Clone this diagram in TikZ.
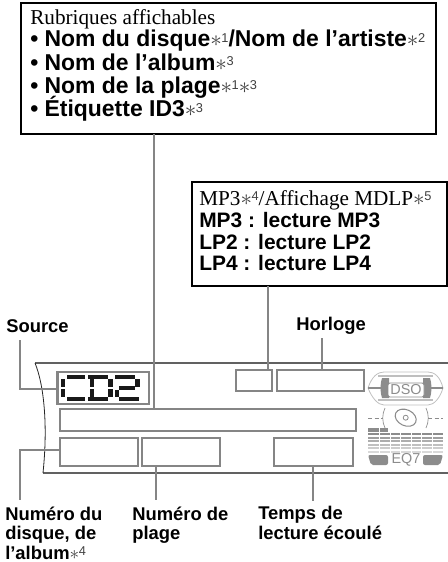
\documentclass[tikz,border=0pt]{standalone}
\usepackage{fontspec}
\setmainfont{Liberation Serif}
\newfontfamily\hv{Liberation Sans}
\definecolor{conn}{gray}{0.52}
\definecolor{lcd}{gray}{0.55}
\definecolor{lcdl}{gray}{0.75}
\tikzset{
  x=0.75pt,y=-0.75pt,
  callout/.style={draw=black,line width=1.7pt,fill=white},
  seg/.style={draw=conn,line width=1.6pt,fill=none},
  link/.style={draw=conn,line width=1.4pt},
  panel/.style={draw=black!62,line width=1.2pt},
  sertext/.style={anchor=base west,inner sep=0pt,font=\fontsize{15.9}{18}\selectfont},
  boldtext/.style={anchor=base west,inner sep=0pt,font=\fontsize{15.7}{18}\selectfont\hv\bfseries},
  bigtext/.style={anchor=base west,inner sep=0pt,font=\fontsize{17.2}{19}\selectfont\hv\bfseries},
  smalltext/.style={anchor=base west,inner sep=0pt,font=\fontsize{13.8}{15}\selectfont\hv\bfseries},
  labeltext/.style={anchor=north west,align=left,inner sep=0pt,font=\fontsize{13.8}{14.7}\selectfont\hv\bfseries},
  lcdtext/.style={inner sep=0pt,text=lcd,font=\fontsize{10.8}{12}\selectfont\hv},
}
\newcommand{\nt}[1]{{\normalfont\color{black!75}$*$\kern-0.3pt\raisebox{0.42ex}{\fontsize{9.6}{9}\selectfont\hv #1}}}
\begin{document}
\begin{tikzpicture}
\useasboundingbox (0,0) rectangle (448,562);
% callouts
\coordinate (topTL) at (21,3); \coordinate (topBR) at (436,134);
\draw[callout] (topTL) rectangle (topBR);
\coordinate (midTL) at (192,182); \coordinate (midBR) at (447,286);
\draw[callout] (midTL) rectangle (midBR);
\node[sertext] (t0) at (30,24) {Rubriques affichables};
\node[bigtext] (t1) at (30,46.5) {• Nom du disque\nt{1}/Nom de l’artiste\nt{2}};
\node[bigtext] (t2) at (30,70) {• Nom de l’album\nt{3}};
\node[bigtext] (t3) at (30,93.5) {• Nom de la plage\nt{1}\nt{3}};
\node[bigtext] (t4) at (30,116.5) {• Étiquette ID3\nt{3}};
\node[sertext] (m0) at (199,205) {MP3\nt{4}/Affichage MDLP\nt{5}};
\node[boldtext] (m1) at (199,227) {MP3 : lecture MP3};
\node[boldtext] (m2) at (199,249) {LP2 : lecture LP2};
\node[boldtext] (m3) at (199,270) {LP4 : lecture LP4};
% panel
\draw[panel] (35,363) -- (448,363);
\draw[panel] (448,473) -- (43,473);
\draw[black!85,line width=0.6pt] (35,363) .. controls (44,385) and (48,425) .. (43,473);
% display boxes
\coordinate (cdTL) at (57.5,372); \coordinate (cdBR) at (149,404);
\draw[seg] (cdTL) rectangle (cdBR);
\draw[seg] (60,409) rectangle (356,431);
\draw[seg] (60,438) rectangle (138,466);
\draw[seg] (142,438) rectangle (220,466);
\draw[seg] (274,438) rectangle (353,466);
\draw[seg] (236,370) rectangle (272,391);
\draw[seg] (277,370) rectangle (364,391);
% connectors
\draw[link] (154,134) -- (154,409);
\draw[link] (267.7,286) -- (267.7,370);
\draw[link] (321.7,338) -- (321.7,370);
\draw[link] (20,340) -- (20,389) -- (57.5,389);
\draw[link] (60,450) -- (20,450) -- (20,500);
\draw[link] (156,466) -- (156,500);
\draw[link] (313,466) -- (313,501);
% labels
\node[smalltext] (src) at (6,332) {Source};
\node[smalltext] (hor) at (296,330) {Horloge};
\node[labeltext] (num) at (5,506.4) {Numéro du\\disque, de\\l’album\nt{4}};
\node[labeltext] (pl) at (132,506.4) {Numéro de\\plage};
\node[labeltext] (tps) at (258,506) {Temps de\\lecture écoulé};
% CD2 segments
\begin{scope}[line width=3pt,black!90]
\draw (85,377) -- (67,377) (85,398.5) -- (67,398.5);
\draw[line width=3.4pt] (63,379) -- (63,387) (63,389) -- (63,397);
\draw (88,377) -- (108,377) (88,398.5) -- (108,398.5);
\draw[line width=2.4pt] (92,379) -- (92,387) (92,389) -- (92,397);
\draw[line width=3.4pt] (110.5,379) -- (110.5,387) (110.5,389) -- (110.5,397);
\draw (115,377) -- (135,377) (119,388) -- (135,388) (119,398.5) -- (139,398.5);
\draw[line width=3.4pt] (137.5,379) -- (137.5,387) (117,390) -- (117,397);
\end{scope}
% DSO logo
\draw[lcdl,line width=0.6pt] (368,388) .. controls (372,376) and (378,372) .. (384,372) -- (428,372) .. controls (434,372) and (440,376) .. (443,388) .. controls (440,398) and (434,405) .. (428,405) -- (384,405) .. controls (378,405) and (372,398) .. (368,388);
\draw[lcd,line width=0.8pt] (368,388) -- (384,388) (427,388) -- (443,388);
\draw[lcdl,line width=1.2pt] (378,376) -- (433,376) (378,400) -- (433,400);
\fill[lcd] (382,378) -- (389,378) -- (389,398) -- (382,398) .. controls (380,392) and (380,384) .. (382,378);
\fill[lcd] (423,378) -- (430,378) .. controls (432,384) and (432,392) .. (430,398) -- (423,398) -- cycle;
\draw[lcd,line width=0.7pt,fill=white,rounded corners=1.5pt] (388,383) rectangle (424,397);
\node[lcdtext] (dso) at (406,390) {DSO};
% disc
\draw[lcd,line width=0.8pt,rotate around={-25:(405.7,417.7)}] (405.7,417.7) ellipse [x radius=11,y radius=8];
\draw[lcd,line width=0.6pt] (405.7,417.7) circle (2.5);
\draw[lcd,line width=0.6pt,dash pattern=on 3pt off 2pt] (368,418) -- (383,418) (428,418) -- (443,418);
\draw[lcd,line width=0.5pt] (385,408) .. controls (382,414) and (382,422) .. (385,428);
\draw[lcd,line width=0.5pt] (426,408) .. controls (429,414) and (429,422) .. (426,428);
% EQ bars
\foreach \yy/\gg in {433/45,436.5/38,440/32,443.5/25,447/20,450.5/15} {
  \fill[black!\gg] (368,\yy) rectangle (443,\yy+2);
}
\fill[lcd] (368,428) rectangle (388,432);
\foreach \xx in {378.5,389.5,400,410.5,421,432} {
  \fill[white] (\xx,427) rectangle (\xx+1,453);
}
\fill[lcd,rounded corners=1.5pt] (368,455) -- (388,455) -- (388,465) -- (371,465) -- cycle;
\fill[lcd,rounded corners=1.5pt] (423,455) -- (443,455) -- (440,465) -- (423,465) -- cycle;
\node[lcdtext] (eq) at (406,460) {EQ7};
\end{tikzpicture}
\end{document}
